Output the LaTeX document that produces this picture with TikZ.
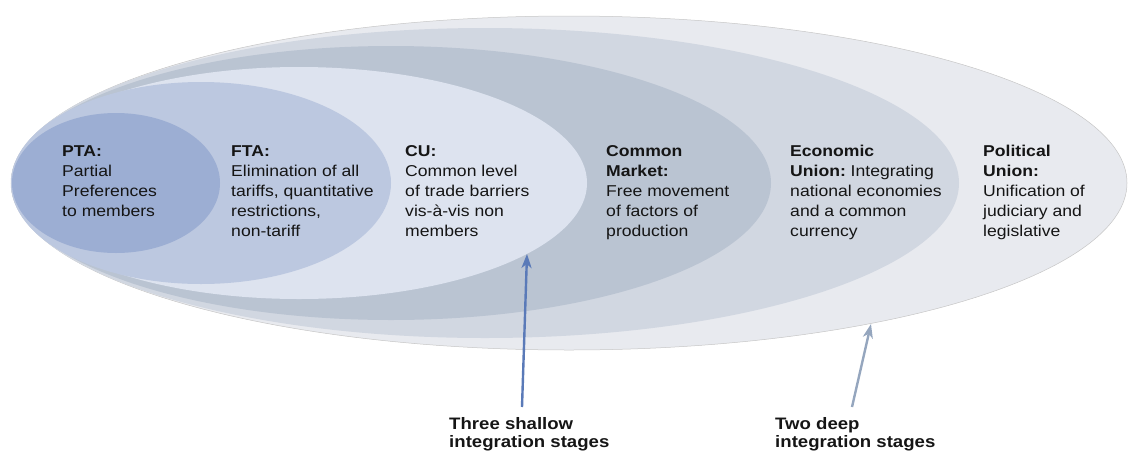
\documentclass[tikz,border=0pt]{standalone}
\usepackage{fontspec}
\setmainfont{Liberation Sans}
\usetikzlibrary{arrows.meta}
\definecolor{cPU}{HTML}{E8EAEF}
\definecolor{cEU}{HTML}{D1D7E1}
\definecolor{cCM}{HTML}{BAC4D2}
\definecolor{cCU}{HTML}{DDE3EF}
\definecolor{cFTA}{HTML}{BCC8E0}
\definecolor{cPTA}{HTML}{9CAED3}
\definecolor{cArrA}{HTML}{5A7AB8}
\definecolor{cArrB}{HTML}{95A6BE}
\definecolor{cTxt}{HTML}{151515}
\tikzset{
  stagetext/.style={anchor=north west, inner sep=0pt, align=left, text=cTxt,
    font=\fontsize{15.7}{20}\selectfont, xscale=1.12},
  bottomlabel/.style={anchor=north west, inner sep=0pt, align=left, text=cTxt,
    font=\bfseries\fontsize{16.6}{18}\selectfont, xscale=1.12},
  pointer/.style={line width=2.4pt, -{Stealth[length=14pt,width=10pt,inset=4pt]}}
}
\begin{document}
\begin{tikzpicture}[x=1pt,y=-1pt]
\useasboundingbox (0,0) rectangle (1129,453);
% nested ellipses
\fill[cPU, draw=gray!45, line width=0.5pt] (569,183) ellipse [x radius=558pt, y radius=167pt];
\fill[cEU] (485,183) ellipse [x radius=474pt, y radius=155pt];
\fill[cCM] (391,183) ellipse [x radius=380pt, y radius=137pt];
\fill[cCU] (299,183) ellipse [x radius=288pt, y radius=116pt];
\fill[cFTA] (201,183) ellipse [x radius=190pt, y radius=101pt];
\fill[cPTA] (116,183) ellipse [x radius=104pt, y radius=70pt];
% texts
\node[stagetext] (pta) at (62,145) {\textbf{PTA:}\\Partial\\Preferences\\to members};
\node[stagetext] (fta) at (231,145) {\textbf{FTA:}\\Elimination of all\\tariffs, quantitative\\restrictions,\\non-tariff};
\node[stagetext] (cu) at (405,145) {\textbf{CU:}\\Common level\\of trade barriers\\vis-à-vis non\\members};
\node[stagetext] (cm) at (606,145) {\textbf{Common}\\\textbf{Market:}\\Free movement\\of factors of\\production};
\node[stagetext] (eu) at (790,145) {\textbf{Economic}\\\textbf{Union:}\hspace{-1.5pt} Integrating\\national economies\\and a common\\currency};
\node[stagetext] (pu) at (983,145) {\textbf{Political}\\\textbf{Union:}\\Unification of\\judiciary and\\legislative};
% bottom labels
\node[bottomlabel] (shallow) at (449,417) {Three shallow\\integration stages};
\node[bottomlabel] (deep) at (775,417) {Two deep\\integration stages};
\coordinate (tipA) at (527,254);
\coordinate (tipB) at (871,324);
\coordinate (startA) at (522,407);
\coordinate (startB) at (852,407);
\draw[pointer, cArrA] (startA) -- (tipA);
\draw[pointer, cArrB] (startB) -- (tipB);
\end{tikzpicture}
\end{document}
